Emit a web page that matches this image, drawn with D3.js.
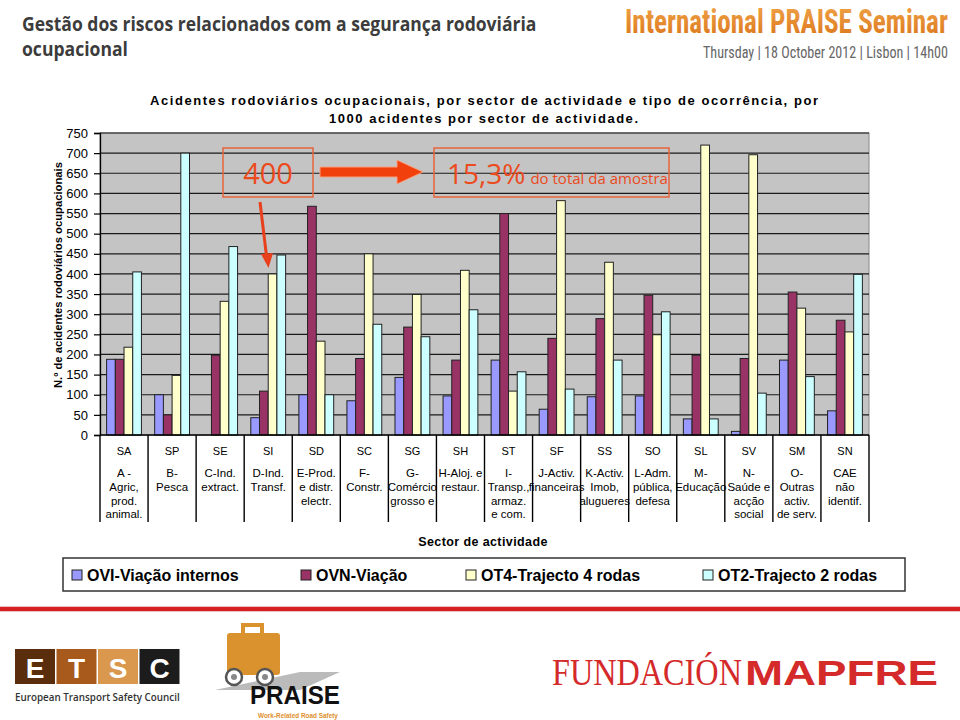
<!DOCTYPE html>
<html><head><meta charset="utf-8">
<script src="https://cdn.jsdelivr.net/npm/d3@7"></script>
<style>body{margin:0;background:#fff}svg{display:block}</style>
</head><body>
<svg id="c" width="960" height="720"></svg>
<script>
const categories = ["SA","SP","SE","SI","SD","SC","SG","SH","ST","SF","SS","SO","SL","SV","SM","SN"];
const descriptions = [
  ["A -","Agric,","prod.","animal."],["B-","Pesca"],["C-Ind.","extract."],["D-Ind.","Transf."],
  ["E-Prod.","e distr.","electr."],["F-","Constr."],["G-","Comércio","grosso e"],["H-Aloj. e","restaur."],
  ["I-","Transp.,","armaz.","e com."],["J-Activ.","financeiras"],["K-Activ.","Imob,","alugueres"],["L-Adm.","pública,","defesa"],
  ["M-","Educação"],["N-","Saúde e","acção","social"],["O-","Outras","activ.","de serv."],["CAE","não","identif."]
];
const seriesNames = ["OVI-Viação internos","OVN-Viação","OT4-Trajecto 4 rodas","OT2-Trajecto 2 rodas"];
const ovi = [188,100,0,43,100,85,143,97,186,64,95,97,40,9,186,60];
const ovn = [188,50,198,109,568,190,268,186,550,240,289,347,198,190,355,285];
const ot4 = [218,148,332,400,233,450,349,409,109,582,429,249,720,696,315,256];
const ot2 = [405,700,468,447,100,275,244,311,157,114,186,306,40,104,145,399];
const yTicks = [0,50,100,150,200,250,300,350,400,450,500,550,600,650,700,750];
const colors = ["#9999ff","#993366","#ffffcc","#ccffff"];

const series = [ovi, ovn, ot4, ot2];
const svg = d3.select("#c");
const L = 100, R = 869, T = 133, B = 435;

// helper: draw text horizontally scaled to fit a target width
function fitText(x, y, w, attrs, txt){
  const t = svg.append("text").attr("x",0).attr("y",0);
  Object.entries(attrs).forEach(([k,v])=>t.attr(k,v));
  t.text(txt);
  const nat = t.node().getComputedTextLength();
  t.attr("transform",`translate(${x},${y}) scale(${w/nat},1)`);
  return t;
}

// header
fitText(22,31,515,{"font-family":"'Open Sans',sans-serif","font-weight":700,"font-size":19,"fill":"#3c3c3c"},
  "Gestão dos riscos relacionados com a segurança rodoviária");
fitText(22,56,106,{"font-family":"'Open Sans',sans-serif","font-weight":700,"font-size":19,"fill":"#3c3c3c"},"ocupacional");
const defs = svg.append("defs");
const g1 = defs.append("linearGradient").attr("id","og").attr("x1",0).attr("y1",0).attr("x2",0).attr("y2",1);
g1.append("stop").attr("offset","0%").attr("stop-color","#f2a54a");
g1.append("stop").attr("offset","100%").attr("stop-color","#d9741a");
fitText(625,33,323,{"font-family":"'Liberation Sans Narrow','Roboto Condensed',Arial,sans-serif","font-weight":"bold","font-size":33,"fill":"url(#og)"},
  "International PRAISE Seminar");
fitText(703,58,245,{"font-family":"'Liberation Sans Narrow','Roboto Condensed',Arial,sans-serif","font-size":17,"fill":"#666"},
  "Thursday | 18 October 2012 | Lisbon | 14h00");

// chart title
svg.append("text").attr("x",150).attr("y",105).attr("font-family","Arial,'Liberation Sans',sans-serif").attr("font-weight","bold")
  .attr("font-size",13).attr("fill","#000").attr("textLength",668).attr("lengthAdjust","spacing")
  .text("Acidentes rodoviários ocupacionais, por sector de actividade e tipo de ocorrência, por");
svg.append("text").attr("x",329).attr("y",123).attr("font-family","Arial,'Liberation Sans',sans-serif").attr("font-weight","bold")
  .attr("font-size",13).attr("fill","#000").attr("textLength",309).attr("lengthAdjust","spacing")
  .text("1000 acidentes por sector de actividade.");

// scales
const x0 = d3.scaleBand().domain(categories).range([L,R]).paddingInner(0).paddingOuter(0);
const x1 = d3.scaleBand().domain(d3.range(4)).range([0,x0.bandwidth()]).paddingInner(0).paddingOuter(0.76);
const y = d3.scaleLinear().domain([0,750]).range([B,T]);

svg.append("rect").attr("x",L).attr("y",T).attr("width",R-L).attr("height",B-T).attr("fill","#c4c4c4").attr("stroke","#888").attr("stroke-width",1);
svg.append("g").selectAll("line").data(yTicks.slice(1)).join("line")
  .attr("x1",L).attr("x2",R).attr("y1",d=>y(d)).attr("y2",d=>y(d)).attr("stroke","#1a1a1a").attr("stroke-width",1.2);

// bars
const bars = [];
categories.forEach((c,i)=>series.forEach((s,j)=>bars.push({c,j,v:s[i]})));
svg.append("g").selectAll("rect").data(bars).join("rect")
  .attr("x",d=>x0(d.c)+x1(d.j)).attr("width",x1.bandwidth())
  .attr("y",d=>y(d.v)).attr("height",d=>B-y(d.v))
  .attr("fill",d=>colors[d.j]).attr("stroke","#222").attr("stroke-width",1);

// y axis
const yAxis = svg.append("g").attr("transform",`translate(${L},0)`)
  .call(d3.axisLeft(y).tickValues(yTicks).tickSize(6).tickPadding(6));
yAxis.select(".domain").attr("stroke","#000").attr("stroke-width",1.3);
yAxis.selectAll(".tick line").attr("stroke","#000").attr("stroke-width",1.2);
yAxis.selectAll("text").attr("font-family","Arial,'Liberation Sans',sans-serif").attr("font-size",13).attr("fill","#000");
svg.append("text").attr("transform","translate(62,275) rotate(-90)").attr("text-anchor","middle")
  .attr("font-family","Arial,'Liberation Sans',sans-serif").attr("font-weight","bold").attr("font-size",11)
  .attr("textLength",226).attr("lengthAdjust","spacingAndGlyphs").text("N.º de acidentes rodoviários ocupacionais");

// x axis line + category table
svg.append("line").attr("x1",L).attr("x2",R).attr("y1",B).attr("y2",B).attr("stroke","#000").attr("stroke-width",1.3);
const bounds = categories.map(c=>x0(c)).concat([R]);
svg.append("g").selectAll("line").data(bounds).join("line")
  .attr("x1",d=>d).attr("x2",d=>d).attr("y1",B).attr("y2",522).attr("stroke","#000").attr("stroke-width",1.4);
const cat = svg.append("g").attr("font-family","Arial,'Liberation Sans',sans-serif").attr("fill","#000");
cat.selectAll("text.code").data(categories).join("text").attr("class","code")
  .attr("x",d=>x0(d)+x0.bandwidth()/2).attr("y",455).attr("text-anchor","middle").attr("font-size",11).text(d=>d);
categories.forEach((c,i)=>{
  descriptions[i].forEach((line,k)=>{
    cat.append("text").attr("x",x0(c)+x0.bandwidth()/2).attr("y",477+k*13.8).attr("text-anchor","middle")
      .attr("font-size",11.5).text(line);
  });
});
svg.append("text").attr("x",483).attr("y",546).attr("text-anchor","middle")
  .attr("font-family","Arial,'Liberation Sans',sans-serif").attr("font-weight","bold").attr("font-size",12.5)
  .attr("letter-spacing",0.4).text("Sector de actividade");

// legend
svg.append("rect").attr("x",63).attr("y",558).attr("width",842).attr("height",33).attr("fill","#fff").attr("stroke","#333").attr("stroke-width",1.5);
const legX = [87,316,481,718];
const lg = svg.append("g").selectAll("g").data(seriesNames).join("g");
lg.append("rect").attr("x",(d,i)=>legX[i]-15).attr("y",570).attr("width",10).attr("height",10)
  .attr("fill",(d,i)=>colors[i]).attr("stroke","#222").attr("stroke-width",1);
lg.append("text").attr("x",(d,i)=>legX[i]).attr("y",581).attr("font-family","Arial,'Liberation Sans',sans-serif")
  .attr("font-weight","bold").attr("font-size",16).attr("fill","#000").text(d=>d);

// annotations
const red = "#ec4a1c";
svg.append("rect").attr("x",223).attr("y",148).attr("width",90).attr("height",49).attr("fill","none").attr("stroke","#e8643c").attr("stroke-width",1.5);
svg.append("text").attr("x",268).attr("y",184).attr("text-anchor","middle").attr("font-family","'Open Sans',sans-serif")
  .attr("font-size",29).attr("fill",red).text("400");
svg.append("rect").attr("x",434).attr("y",148).attr("width",235).attr("height",49).attr("fill","none").attr("stroke","#e8643c").attr("stroke-width",1.5);
const t2 = svg.append("text").attr("x",447).attr("y",184).attr("font-family","'Open Sans',sans-serif").attr("fill",red);
t2.append("tspan").attr("font-size",28).text("15,3%");
t2.append("tspan").attr("font-size",15).attr("dx",5).text("do total da amostra");
// thin arrow
svg.append("line").attr("x1",260).attr("y1",202).attr("x2",266.5).attr("y2",256).attr("stroke","#e8401c").attr("stroke-width",3);
svg.append("path").attr("d","M261,254 L273,253 L268.5,268 Z").attr("fill","#e8401c");
// big arrow
svg.append("path").attr("d","M320,167 L397,167 L397,160 L423,172 L397,184 L397,177 L320,177 Z")
  .attr("fill","#f2400c").attr("stroke","#f7a080").attr("stroke-width",1);

// red separator
svg.append("rect").attr("x",0).attr("y",606).attr("width",960).attr("height",6).attr("fill","#f0c0c0");
svg.append("rect").attr("x",0).attr("y",607).attr("width",960).attr("height",4).attr("fill","#d42020");

// ETSC logo
const etsc = [["E","#5a2e0c"],["T","#a85a1c"],["S","#d9984e"],["C","#1c1c1c"]];
etsc.forEach((e,i)=>{
  svg.append("rect").attr("x",15+i*41.5).attr("y",649).attr("width",40).attr("height",35).attr("fill",e[1]);
  svg.append("text").attr("x",35+i*41.5).attr("y",678).attr("text-anchor","middle").attr("font-family","'Liberation Sans Narrow',Arial,sans-serif")
    .attr("font-weight","bold").attr("font-size",28).attr("fill","#fff").text(e[0]);
});
fitText(15,701,165,{"font-family":"'Open Sans',sans-serif","font-weight":600,"font-size":10,"fill":"#333"},"European Transport Safety Council");

// PRAISE logo
svg.append("path").attr("d","M215,690 L300,672 L340,672 L300,690 Z").attr("fill","#bbb");
svg.append("rect").attr("x",227).attr("y",633).attr("width",53).attr("height",42).attr("rx",3).attr("fill","#d9922e");
svg.append("path").attr("d","M243,633 L243,625 L262,625 L262,633").attr("fill","none").attr("stroke","#d9922e").attr("stroke-width",4);
[234,265].forEach(cx=>{
  svg.append("circle").attr("cx",cx).attr("cy",677).attr("r",8).attr("fill","#fff").attr("stroke","#555").attr("stroke-width",2.5);
  svg.append("circle").attr("cx",cx).attr("cy",677).attr("r",3).attr("fill","#888");
});
fitText(250,704,90,{"font-family":"Arial,'Liberation Sans',sans-serif","font-weight":"bold","font-size":25,"fill":"#111"},"PRAISE");
fitText(258,718,80,{"font-family":"Arial,'Liberation Sans',sans-serif","font-weight":"bold","font-size":7.5,"fill":"#e0902e"},"Work-Related Road Safety");

// MAPFRE logo
fitText(552,685,190,{"font-family":"'Liberation Serif','DejaVu Serif',serif","font-size":37,"fill":"#d42a2a"},"FUNDACIÓN");
fitText(745,685,193,{"font-family":"Arial,'Liberation Sans',sans-serif","font-weight":"900","font-size":35,"fill":"#d42a2a"},"MAPFRE");
</script>
</body></html>
